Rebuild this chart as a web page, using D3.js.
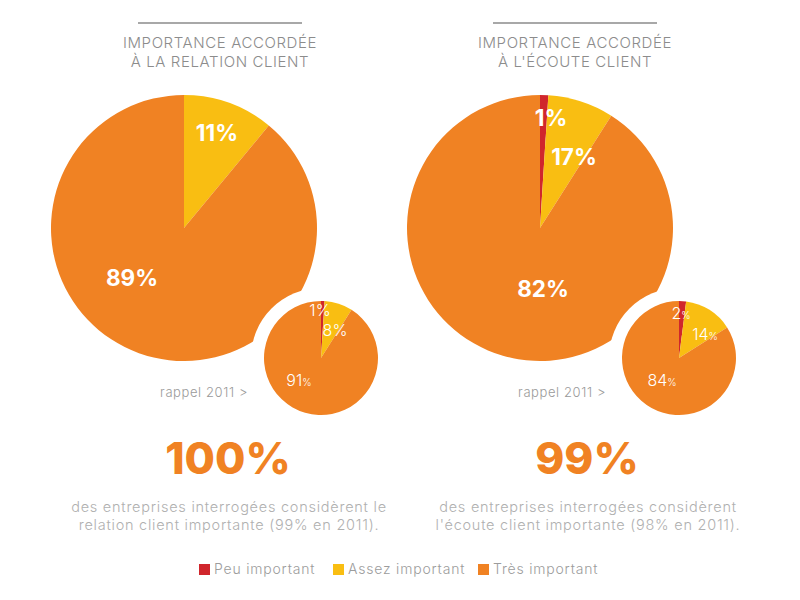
<!DOCTYPE html>
<html><head><meta charset="utf-8">
<script src="https://cdn.jsdelivr.net/npm/d3@7"></script>
<style>body{margin:0;background:#fff}svg{display:block}text{font-family:Inter,"Open Sans",sans-serif}</style>
</head><body>
<svg id="c" width="800" height="600"></svg>
<script>
const categories = ["Peu important", "Assez important", "Très important"];
const colors = ["#D0262C", "#F9BE12", "#F08223"];
const titles = [["IMPORTANCE ACCORDÉE", "À LA RELATION CLIENT"], ["IMPORTANCE ACCORDÉE", "À L'ÉCOUTE CLIENT"]];
// slice sizes as drawn in the picture
const values2013 = [[0, 11, 89], [1, 8, 91]];
// percentages as printed on the slices
const labels2013 = [[null, 11, 89], [1, 17, 82]];
const values2011 = [[1, 8, 91], [2, 14, 84]];
const headline = ["100%", "99%"];
const descriptions = [["des entreprises interrogées considèrent le", "relation client importante (99% en 2011)."],
                      ["des entreprises interrogées considèrent", "l'écoute client importante (98% en 2011)."]];
const recallLabel = "rappel 2011 >";

const svg = d3.select("#c");
const panels = [{cx:184, cy:228, scx:321, scy:358, tx:220, hx:228},
                {cx:540, cy:228, scx:679, scy:358, tx:575, hx:587}];
// label offsets (layout)
const bigOff = [[null, [33,-95], [-52,50]], [[11,-110],[34,-71],[3,61]]];
const smallOff = [[[-1,-48],[14,-28],[-22,22]], [[2,-45],[26,-24],[-17,22]]];

const pie = d3.pie().sort(null).value(d=>d);
const bigArc = d3.arc().innerRadius(0).outerRadius(133);
const smallArc = d3.arc().innerRadius(0).outerRadius(57);

panels.forEach((p,i)=>{
  const g = svg.append("g");
  g.append("line").attr("x1",p.tx-82).attr("x2",p.tx+82).attr("y1",23).attr("y2",23)
    .attr("stroke","#a8a8a8").attr("stroke-width",2);
  titles[i].forEach((t,j)=>g.append("text").attr("x",p.tx).attr("y",48+j*19).attr("text-anchor","middle")
    .attr("font-size",15).attr("font-weight",300).attr("letter-spacing",0.6).attr("fill","#8c8c8c").text(t));
  const big = g.append("g").attr("transform",`translate(${p.cx},${p.cy})`);
  big.selectAll("path").data(pie(values2013[i])).join("path").attr("d",bigArc).attr("fill",(d,k)=>colors[k]);
  labels2013[i].forEach((v,k)=>{
    if(v===null) return;
    const o = bigOff[i][k];
    big.append("text").attr("x",o[0]).attr("y",o[1]).attr("dy","0.35em").attr("text-anchor","middle")
      .attr("font-size",22.5).attr("font-weight",700).attr("fill","#fff").text(v+"%");
  });
  g.append("circle").attr("cx",p.scx).attr("cy",p.scy).attr("r",70).attr("fill","#fff");
  const sm = g.append("g").attr("transform",`translate(${p.scx},${p.scy})`);
  sm.selectAll("path").data(pie(values2011[i])).join("path").attr("d",smallArc).attr("fill",(d,k)=>colors[k]);
  values2011[i].forEach((v,k)=>{
    const o = smallOff[i][k];
    const t = sm.append("text").attr("x",o[0]).attr("y",o[1]).attr("dy","0.35em").attr("text-anchor","middle")
      .attr("fill","#fff").attr("font-weight",300);
    t.append("tspan").attr("font-size",16).text(v);
    t.append("tspan").attr("font-size",(i===0&&k<2)?16:10).text("%");
  });
  g.append("text").attr("x",p.scx-73).attr("y",397).attr("text-anchor","end").attr("font-size",13)
    .attr("font-weight",300).attr("letter-spacing",0.6).attr("fill","#9a9a9a").text(recallLabel);
  g.append("text").attr("x",p.hx).attr("y",474).attr("text-anchor","middle").attr("font-size",44)
    .attr("font-weight",800).attr("fill","#F08223").text(headline[i]);
  descriptions[i].forEach((t,j)=>g.append("text").attr("x",p.hx+1).attr("y",512+j*18).attr("text-anchor","middle")
    .attr("font-size",14.5).attr("font-weight",300).attr("letter-spacing",0.75).attr("fill","#b0b0b0").text(t));
});

const legX = [199, 333, 478];
const lg = svg.append("g");
categories.forEach((c,k)=>{
  lg.append("rect").attr("x",legX[k]).attr("y",564).attr("width",11).attr("height",11).attr("fill",colors[k]);
  lg.append("text").attr("x",legX[k]+15).attr("y",574).attr("font-size",14).attr("font-weight",300)
    .attr("letter-spacing",0.8).attr("fill","#9c9c9c").text(c);
});
</script>
</body></html>
